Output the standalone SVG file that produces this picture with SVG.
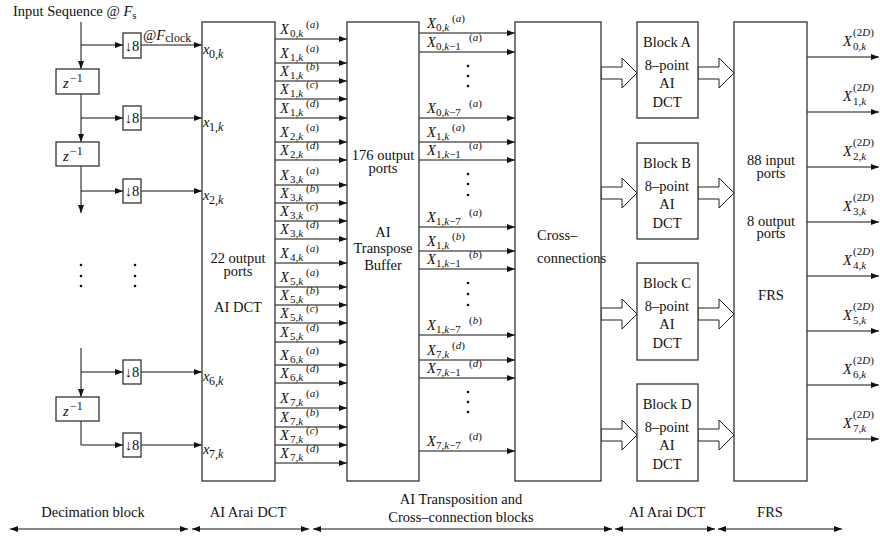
<svg xmlns="http://www.w3.org/2000/svg" width="880" height="537" viewBox="0 0 880 537">
<defs>
<marker id="ah" markerUnits="userSpaceOnUse" markerWidth="9" markerHeight="6" refX="8" refY="3" orient="auto-start-reverse"><path d="M0,0 L8,3 L0,6 z" fill="#111"/></marker>
<style>
.t{font-family:"Liberation Serif","Times New Roman",serif;font-size:14.5px;fill:#111}
.c{text-anchor:middle}
.i{font-style:italic}
.s{font-size:11px}
.s2{font-size:12px}
.bx{fill:#fff;stroke:#333;stroke-width:1.3}
.ln{stroke:#111;stroke-width:1;fill:none}
.a{stroke:#111;stroke-width:1;fill:none;marker-end:url(#ah)}
.aa{stroke:#111;stroke-width:1;fill:none;marker-start:url(#ah);marker-end:url(#ah)}
.ha{fill:#fff;stroke:#222;stroke-width:1}
.dot{fill:#111}
</style>
</defs>
<rect width="880" height="537" fill="#fff"/>

<text class="t" x="13" y="16">Input Sequence @ <tspan class="i">F</tspan><tspan class="s" dy="3">s</tspan></text>
<text class="t" x="143" y="40">@<tspan class="i">F</tspan><tspan class="s2" dy="2">clock</tspan></text>

<g id="connectors">
<line class="a" x1="81" y1="22" x2="81" y2="69"/>
<line class="a" x1="81" y1="45" x2="123" y2="45"/>
<line class="a" x1="141" y1="45" x2="202" y2="45"/>
<line class="a" x1="81" y1="94" x2="81" y2="142"/>
<line class="a" x1="81" y1="118" x2="123" y2="118"/>
<line class="a" x1="141" y1="118" x2="202" y2="118"/>
<line class="a" x1="81" y1="166" x2="81" y2="213"/>
<line class="a" x1="81" y1="191" x2="123" y2="191"/>
<line class="a" x1="141" y1="191" x2="202" y2="191"/>
<line class="a" x1="81" y1="348" x2="81" y2="397"/>
<line class="a" x1="81" y1="372" x2="123" y2="372"/>
<line class="a" x1="141" y1="372" x2="202" y2="372"/>
<path class="a" d="M81,421 L81,445 L123,445"/>
<line class="a" x1="141" y1="445" x2="202" y2="445"/>
<line class="a" x1="275" y1="39" x2="347" y2="39"/>
<line class="a" x1="275" y1="63" x2="347" y2="63"/>
<line class="a" x1="275" y1="81" x2="347" y2="81"/>
<line class="a" x1="275" y1="99" x2="347" y2="99"/>
<line class="a" x1="275" y1="118" x2="347" y2="118"/>
<line class="a" x1="275" y1="142" x2="347" y2="142"/>
<line class="a" x1="275" y1="160" x2="347" y2="160"/>
<line class="a" x1="275" y1="185" x2="347" y2="185"/>
<line class="a" x1="275" y1="203" x2="347" y2="203"/>
<line class="a" x1="275" y1="221" x2="347" y2="221"/>
<line class="a" x1="275" y1="239" x2="347" y2="239"/>
<line class="a" x1="275" y1="263" x2="347" y2="263"/>
<line class="a" x1="275" y1="287" x2="347" y2="287"/>
<line class="a" x1="275" y1="305" x2="347" y2="305"/>
<line class="a" x1="275" y1="323" x2="347" y2="323"/>
<line class="a" x1="275" y1="342" x2="347" y2="342"/>
<line class="a" x1="275" y1="365" x2="347" y2="365"/>
<line class="a" x1="275" y1="383" x2="347" y2="383"/>
<line class="a" x1="275" y1="408" x2="347" y2="408"/>
<line class="a" x1="275" y1="427" x2="347" y2="427"/>
<line class="a" x1="275" y1="445" x2="347" y2="445"/>
<line class="a" x1="275" y1="463" x2="347" y2="463"/>
<line class="a" x1="419" y1="33" x2="515" y2="33"/>
<line class="a" x1="419" y1="52" x2="515" y2="52"/>
<line class="a" x1="419" y1="118" x2="515" y2="118"/>
<line class="a" x1="419" y1="142" x2="515" y2="142"/>
<line class="a" x1="419" y1="160" x2="515" y2="160"/>
<line class="a" x1="419" y1="227" x2="515" y2="227"/>
<line class="a" x1="419" y1="251" x2="515" y2="251"/>
<line class="a" x1="419" y1="269" x2="515" y2="269"/>
<line class="a" x1="419" y1="335" x2="515" y2="335"/>
<line class="a" x1="419" y1="360" x2="515" y2="360"/>
<line class="a" x1="419" y1="378" x2="515" y2="378"/>
<line class="a" x1="419" y1="451" x2="515" y2="451"/>
<polygon class="ha" points="601,67 622,67 622,58 637,73 622,88 622,79 601,79"/>
<polygon class="ha" points="698,67 719,67 719,58 734,73 719,88 719,79 698,79"/>
<polygon class="ha" points="601,187 622,187 622,178 637,193 622,208 622,199 601,199"/>
<polygon class="ha" points="698,187 719,187 719,178 734,193 719,208 719,199 698,199"/>
<polygon class="ha" points="601,308 622,308 622,299 637,314 622,329 622,320 601,320"/>
<polygon class="ha" points="698,308 719,308 719,299 734,314 719,329 719,320 698,320"/>
<polygon class="ha" points="601,429 622,429 622,420 637,435 622,450 622,441 601,441"/>
<polygon class="ha" points="698,429 719,429 719,420 734,435 719,450 719,441 698,441"/>
<line class="a" x1="807" y1="57" x2="879" y2="57"/>
<line class="a" x1="807" y1="112" x2="879" y2="112"/>
<line class="a" x1="807" y1="167" x2="879" y2="167"/>
<line class="a" x1="807" y1="222" x2="879" y2="222"/>
<line class="a" x1="807" y1="276" x2="879" y2="276"/>
<line class="a" x1="807" y1="331" x2="879" y2="331"/>
<line class="a" x1="807" y1="385" x2="879" y2="385"/>
<line class="a" x1="807" y1="439" x2="879" y2="439"/>
<line class="aa" x1="10" y1="529" x2="188" y2="529"/>
<line class="aa" x1="192" y1="529" x2="309" y2="529"/>
<line class="aa" x1="313" y1="529" x2="612" y2="529"/>
<line class="aa" x1="615" y1="529" x2="715" y2="529"/>
<line class="aa" x1="718" y1="529" x2="842" y2="529"/>
</g>

<g id="decimation">
<g id="z1"><rect class="bx" x="56" y="69" width="43" height="25"/><text class="t"><tspan class="i" x="63" y="88">z</tspan><tspan class="s2" x="70" y="82">−1</tspan></text></g>
<g id="z2"><rect class="bx" x="56" y="142" width="43" height="24"/><text class="t"><tspan class="i" x="63" y="161">z</tspan><tspan class="s2" x="70" y="155">−1</tspan></text></g>
<g id="z3"><rect class="bx" x="56" y="397" width="43" height="24"/><text class="t"><tspan class="i" x="63" y="416">z</tspan><tspan class="s2" x="70" y="410">−1</tspan></text></g>
<g id="d1"><rect class="bx" x="123" y="33" width="18" height="25"/><text class="t c" x="132" y="51">↓8</text></g>
<g id="d2"><rect class="bx" x="123" y="106" width="18" height="24"/><text class="t c" x="132" y="123">↓8</text></g>
<g id="d3"><rect class="bx" x="123" y="179" width="18" height="24"/><text class="t c" x="132" y="196">↓8</text></g>
<g id="d4"><rect class="bx" x="123" y="360" width="18" height="24"/><text class="t c" x="132" y="377">↓8</text></g>
<g id="d5"><rect class="bx" x="123" y="433" width="18" height="24"/><text class="t c" x="132" y="450">↓8</text></g>
<circle class="dot" cx="81" cy="265" r="1.3"/><circle class="dot" cx="81" cy="276" r="1.3"/><circle class="dot" cx="81" cy="286" r="1.3"/>
<circle class="dot" cx="135" cy="265" r="1.3"/><circle class="dot" cx="135" cy="276" r="1.3"/><circle class="dot" cx="135" cy="286" r="1.3"/>
</g>

<g id="ai-dct">
<rect class="bx" x="202" y="22" width="73" height="459"/>
<text class="t"><tspan class="i" x="203" y="54">x</tspan><tspan class="s2" x="209" y="58">0,<tspan class="i">k</tspan></tspan></text>
<text class="t"><tspan class="i" x="203" y="127">x</tspan><tspan class="s2" x="209" y="131">1,<tspan class="i">k</tspan></tspan></text>
<text class="t"><tspan class="i" x="203" y="200">x</tspan><tspan class="s2" x="209" y="204">2,<tspan class="i">k</tspan></tspan></text>
<text class="t"><tspan class="i" x="203" y="381">x</tspan><tspan class="s2" x="209" y="385">6,<tspan class="i">k</tspan></tspan></text>
<text class="t"><tspan class="i" x="203" y="454">x</tspan><tspan class="s2" x="209" y="458">7,<tspan class="i">k</tspan></tspan></text>
<text class="t c" x="238" y="263">22 output</text>
<text class="t c" x="238" y="276">ports</text>
<text class="t c" x="238" y="312">AI DCT</text>
</g>

<g id="dct-labels">
<text class="t"><tspan class="i" x="280" y="34">X</tspan><tspan class="s" x="290" y="37">0,<tspan class="i">k</tspan></tspan><tspan class="s" x="306" y="28">(<tspan class="i">a</tspan>)</tspan></text>
<text class="t"><tspan class="i" x="280" y="58">X</tspan><tspan class="s" x="290" y="61">1,<tspan class="i">k</tspan></tspan><tspan class="s" x="306" y="52">(<tspan class="i">a</tspan>)</tspan></text>
<text class="t"><tspan class="i" x="280" y="76">X</tspan><tspan class="s" x="290" y="79">1,<tspan class="i">k</tspan></tspan><tspan class="s" x="306" y="70">(<tspan class="i">b</tspan>)</tspan></text>
<text class="t"><tspan class="i" x="280" y="94">X</tspan><tspan class="s" x="290" y="97">1,<tspan class="i">k</tspan></tspan><tspan class="s" x="306" y="88">(<tspan class="i">c</tspan>)</tspan></text>
<text class="t"><tspan class="i" x="280" y="113">X</tspan><tspan class="s" x="290" y="116">1,<tspan class="i">k</tspan></tspan><tspan class="s" x="306" y="107">(<tspan class="i">d</tspan>)</tspan></text>
<text class="t"><tspan class="i" x="280" y="137">X</tspan><tspan class="s" x="290" y="140">2,<tspan class="i">k</tspan></tspan><tspan class="s" x="306" y="131">(<tspan class="i">a</tspan>)</tspan></text>
<text class="t"><tspan class="i" x="280" y="155">X</tspan><tspan class="s" x="290" y="158">2,<tspan class="i">k</tspan></tspan><tspan class="s" x="306" y="149">(<tspan class="i">d</tspan>)</tspan></text>
<text class="t"><tspan class="i" x="280" y="180">X</tspan><tspan class="s" x="290" y="183">3,<tspan class="i">k</tspan></tspan><tspan class="s" x="306" y="174">(<tspan class="i">a</tspan>)</tspan></text>
<text class="t"><tspan class="i" x="280" y="198">X</tspan><tspan class="s" x="290" y="201">3,<tspan class="i">k</tspan></tspan><tspan class="s" x="306" y="192">(<tspan class="i">b</tspan>)</tspan></text>
<text class="t"><tspan class="i" x="280" y="216">X</tspan><tspan class="s" x="290" y="219">3,<tspan class="i">k</tspan></tspan><tspan class="s" x="306" y="210">(<tspan class="i">c</tspan>)</tspan></text>
<text class="t"><tspan class="i" x="280" y="234">X</tspan><tspan class="s" x="290" y="237">3,<tspan class="i">k</tspan></tspan><tspan class="s" x="306" y="228">(<tspan class="i">d</tspan>)</tspan></text>
<text class="t"><tspan class="i" x="280" y="258">X</tspan><tspan class="s" x="290" y="261">4,<tspan class="i">k</tspan></tspan><tspan class="s" x="306" y="252">(<tspan class="i">a</tspan>)</tspan></text>
<text class="t"><tspan class="i" x="280" y="282">X</tspan><tspan class="s" x="290" y="285">5,<tspan class="i">k</tspan></tspan><tspan class="s" x="306" y="276">(<tspan class="i">a</tspan>)</tspan></text>
<text class="t"><tspan class="i" x="280" y="300">X</tspan><tspan class="s" x="290" y="303">5,<tspan class="i">k</tspan></tspan><tspan class="s" x="306" y="294">(<tspan class="i">b</tspan>)</tspan></text>
<text class="t"><tspan class="i" x="280" y="318">X</tspan><tspan class="s" x="290" y="321">5,<tspan class="i">k</tspan></tspan><tspan class="s" x="306" y="312">(<tspan class="i">c</tspan>)</tspan></text>
<text class="t"><tspan class="i" x="280" y="337">X</tspan><tspan class="s" x="290" y="340">5,<tspan class="i">k</tspan></tspan><tspan class="s" x="306" y="331">(<tspan class="i">d</tspan>)</tspan></text>
<text class="t"><tspan class="i" x="280" y="360">X</tspan><tspan class="s" x="290" y="363">6,<tspan class="i">k</tspan></tspan><tspan class="s" x="306" y="354">(<tspan class="i">a</tspan>)</tspan></text>
<text class="t"><tspan class="i" x="280" y="378">X</tspan><tspan class="s" x="290" y="381">6,<tspan class="i">k</tspan></tspan><tspan class="s" x="306" y="372">(<tspan class="i">d</tspan>)</tspan></text>
<text class="t"><tspan class="i" x="280" y="403">X</tspan><tspan class="s" x="290" y="406">7,<tspan class="i">k</tspan></tspan><tspan class="s" x="306" y="397">(<tspan class="i">a</tspan>)</tspan></text>
<text class="t"><tspan class="i" x="280" y="422">X</tspan><tspan class="s" x="290" y="425">7,<tspan class="i">k</tspan></tspan><tspan class="s" x="306" y="416">(<tspan class="i">b</tspan>)</tspan></text>
<text class="t"><tspan class="i" x="280" y="440">X</tspan><tspan class="s" x="290" y="443">7,<tspan class="i">k</tspan></tspan><tspan class="s" x="306" y="434">(<tspan class="i">c</tspan>)</tspan></text>
<text class="t"><tspan class="i" x="280" y="458">X</tspan><tspan class="s" x="290" y="461">7,<tspan class="i">k</tspan></tspan><tspan class="s" x="306" y="452">(<tspan class="i">d</tspan>)</tspan></text>
</g>

<g id="transpose-buffer">
<rect class="bx" x="347" y="22" width="72" height="459"/>
<text class="t c" x="383" y="160">176 output</text>
<text class="t c" x="383" y="173">ports</text>
<text class="t c" x="383" y="237">AI</text>
<text class="t c" x="383" y="253">Transpose</text>
<text class="t c" x="383" y="270">Buffer</text>
</g>

<g id="transpose-labels">
<text class="t"><tspan class="i" x="427" y="28">X</tspan><tspan class="s" x="436" y="31">0,<tspan class="i">k</tspan></tspan><tspan class="s" x="452" y="22">(<tspan class="i">a</tspan>)</tspan></text>
<text class="t"><tspan class="i" x="427" y="47">X</tspan><tspan class="s" x="436" y="50">0,<tspan class="i">k</tspan>−1</tspan><tspan class="s" x="469" y="41">(<tspan class="i">a</tspan>)</tspan></text>
<text class="t"><tspan class="i" x="427" y="113">X</tspan><tspan class="s" x="436" y="116">0,<tspan class="i">k</tspan>−7</tspan><tspan class="s" x="469" y="107">(<tspan class="i">a</tspan>)</tspan></text>
<text class="t"><tspan class="i" x="427" y="137">X</tspan><tspan class="s" x="436" y="140">1,<tspan class="i">k</tspan></tspan><tspan class="s" x="452" y="131">(<tspan class="i">a</tspan>)</tspan></text>
<text class="t"><tspan class="i" x="427" y="155">X</tspan><tspan class="s" x="436" y="158">1,<tspan class="i">k</tspan>−1</tspan><tspan class="s" x="469" y="149">(<tspan class="i">a</tspan>)</tspan></text>
<text class="t"><tspan class="i" x="427" y="222">X</tspan><tspan class="s" x="436" y="225">1,<tspan class="i">k</tspan>−7</tspan><tspan class="s" x="469" y="216">(<tspan class="i">a</tspan>)</tspan></text>
<text class="t"><tspan class="i" x="427" y="246">X</tspan><tspan class="s" x="436" y="249">1,<tspan class="i">k</tspan></tspan><tspan class="s" x="452" y="240">(<tspan class="i">b</tspan>)</tspan></text>
<text class="t"><tspan class="i" x="427" y="264">X</tspan><tspan class="s" x="436" y="267">1,<tspan class="i">k</tspan>−1</tspan><tspan class="s" x="469" y="258">(<tspan class="i">b</tspan>)</tspan></text>
<text class="t"><tspan class="i" x="427" y="330">X</tspan><tspan class="s" x="436" y="333">1,<tspan class="i">k</tspan>−7</tspan><tspan class="s" x="469" y="324">(<tspan class="i">b</tspan>)</tspan></text>
<text class="t"><tspan class="i" x="427" y="355">X</tspan><tspan class="s" x="436" y="358">7,<tspan class="i">k</tspan></tspan><tspan class="s" x="452" y="349">(<tspan class="i">d</tspan>)</tspan></text>
<text class="t"><tspan class="i" x="427" y="373">X</tspan><tspan class="s" x="436" y="376">7,<tspan class="i">k</tspan>−1</tspan><tspan class="s" x="469" y="367">(<tspan class="i">d</tspan>)</tspan></text>
<text class="t"><tspan class="i" x="427" y="446">X</tspan><tspan class="s" x="436" y="449">7,<tspan class="i">k</tspan>−7</tspan><tspan class="s" x="469" y="440">(<tspan class="i">d</tspan>)</tspan></text>
<circle class="dot" cx="468" cy="66" r="1.3"/><circle class="dot" cx="468" cy="76" r="1.3"/><circle class="dot" cx="468" cy="86" r="1.3"/>
<circle class="dot" cx="468" cy="174" r="1.3"/><circle class="dot" cx="468" cy="184" r="1.3"/><circle class="dot" cx="468" cy="195" r="1.3"/>
<circle class="dot" cx="468" cy="283" r="1.3"/><circle class="dot" cx="468" cy="294" r="1.3"/><circle class="dot" cx="468" cy="305" r="1.3"/>
<circle class="dot" cx="468" cy="392" r="1.3"/><circle class="dot" cx="468" cy="402" r="1.3"/><circle class="dot" cx="468" cy="412" r="1.3"/>
</g>

<g id="cross-connections">
<rect class="bx" x="515" y="22" width="86" height="459"/>
<text class="t" x="537" y="240">Cross–</text>
<text class="t" x="537" y="263">connections</text>
</g>

<g id="block-a">
<rect class="bx" x="637" y="22" width="61" height="96"/>
<text class="t c" x="667" y="47">Block A</text>
<text class="t c" x="667" y="70">8–point</text>
<text class="t c" x="667" y="88">AI</text>
<text class="t c" x="667" y="107">DCT</text>
</g>
<g id="block-b">
<rect class="bx" x="637" y="143" width="61" height="96"/>
<text class="t c" x="667" y="168">Block B</text>
<text class="t c" x="667" y="191">8–point</text>
<text class="t c" x="667" y="209">AI</text>
<text class="t c" x="667" y="228">DCT</text>
</g>
<g id="block-c">
<rect class="bx" x="637" y="263" width="61" height="97"/>
<text class="t c" x="667" y="288">Block C</text>
<text class="t c" x="667" y="311">8–point</text>
<text class="t c" x="667" y="329">AI</text>
<text class="t c" x="667" y="348">DCT</text>
</g>
<g id="block-d">
<rect class="bx" x="637" y="384" width="61" height="97"/>
<text class="t c" x="667" y="409">Block D</text>
<text class="t c" x="667" y="432">8–point</text>
<text class="t c" x="667" y="450">AI</text>
<text class="t c" x="667" y="469">DCT</text>
</g>

<g id="frs">
<rect class="bx" x="734" y="22" width="73" height="459"/>
<text class="t c" x="771" y="165">88 input</text>
<text class="t c" x="771" y="178">ports</text>
<text class="t c" x="771" y="226">8 output</text>
<text class="t c" x="771" y="238">ports</text>
<text class="t c" x="771" y="300">FRS</text>
</g>

<g id="frs-labels">
<text class="t"><tspan class="i" x="843" y="46">X</tspan><tspan class="s" x="853" y="36">(2<tspan class="i">D</tspan>)</tspan><tspan class="s" x="853" y="50">0,<tspan class="i">k</tspan></tspan></text>
<text class="t"><tspan class="i" x="843" y="101">X</tspan><tspan class="s" x="853" y="91">(2<tspan class="i">D</tspan>)</tspan><tspan class="s" x="853" y="105">1,<tspan class="i">k</tspan></tspan></text>
<text class="t"><tspan class="i" x="843" y="156">X</tspan><tspan class="s" x="853" y="146">(2<tspan class="i">D</tspan>)</tspan><tspan class="s" x="853" y="160">2,<tspan class="i">k</tspan></tspan></text>
<text class="t"><tspan class="i" x="843" y="211">X</tspan><tspan class="s" x="853" y="201">(2<tspan class="i">D</tspan>)</tspan><tspan class="s" x="853" y="215">3,<tspan class="i">k</tspan></tspan></text>
<text class="t"><tspan class="i" x="843" y="265">X</tspan><tspan class="s" x="853" y="255">(2<tspan class="i">D</tspan>)</tspan><tspan class="s" x="853" y="269">4,<tspan class="i">k</tspan></tspan></text>
<text class="t"><tspan class="i" x="843" y="320">X</tspan><tspan class="s" x="853" y="310">(2<tspan class="i">D</tspan>)</tspan><tspan class="s" x="853" y="324">5,<tspan class="i">k</tspan></tspan></text>
<text class="t"><tspan class="i" x="843" y="374">X</tspan><tspan class="s" x="853" y="364">(2<tspan class="i">D</tspan>)</tspan><tspan class="s" x="853" y="378">6,<tspan class="i">k</tspan></tspan></text>
<text class="t"><tspan class="i" x="843" y="428">X</tspan><tspan class="s" x="853" y="418">(2<tspan class="i">D</tspan>)</tspan><tspan class="s" x="853" y="432">7,<tspan class="i">k</tspan></tspan></text>
</g>

<g id="section-labels">
<text class="t c" x="93" y="517">Decimation block</text>
<text class="t c" x="248" y="517">AI Arai DCT</text>
<text class="t c" x="461" y="504">AI Transposition and</text>
<text class="t c" x="461" y="522">Cross–connection blocks</text>
<text class="t c" x="667" y="517">AI Arai DCT</text>
<text class="t c" x="770" y="517">FRS</text>
</g>
</svg>
